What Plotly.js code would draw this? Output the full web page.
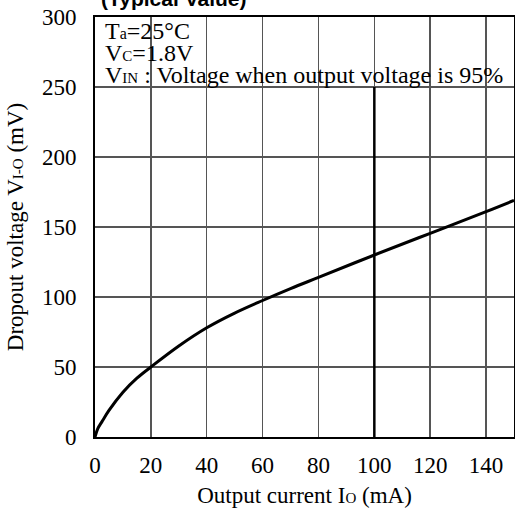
<!DOCTYPE html>
<html>
<head>
<meta charset="utf-8">
<script src="https://cdn.plot.ly/plotly-3.0.1.min.js"></script>
<style>html,body{margin:0;padding:0;background:#fff;}#chart{width:515px;height:513px;}</style>
</head>
<body>
<div id="chart"></div>
<script>
// Data
var outputCurrent = [0, 1, 2.5, 5, 10, 15, 20, 30, 40, 50, 60, 70, 80, 100, 120, 140, 150];
var dropoutVoltage = [0, 6, 11, 19, 32, 42, 50, 65, 78, 88.5, 97.5, 106, 114, 130, 145.5, 161, 169];
var xTicks = [0, 20, 40, 60, 80, 100, 120, 140];
var yTicks = [0, 50, 100, 150, 200, 250, 300];
function sm(t, px) { return "<span style='font-size:" + px + "px'>" + t + "</span>"; }
var conditions = ["T" + sm("a", 16) + "=25°C", "V" + sm("C", 15) + "=1.8V", "V" + sm("IN", 15) + " : Voltage when output voltage is 95%"];
var titleText = "(Typical Value)";

var serif = "Liberation Serif, Times New Roman, serif";

var trace = {
  x: outputCurrent, y: dropoutVoltage, type: "scatter", mode: "lines",
  line: {color: "#000", width: 3, shape: "spline", smoothing: 1},
  hoverinfo: "skip"
};

var annotations = conditions.map(function (t, i) {
  return {
    text: t, xref: "paper", yref: "paper", x: 0, y: 1, xanchor: "left", yanchor: "top",
    xshift: 8, yshift: 1 - i * 22, showarrow: false, align: "left",
    font: {family: serif, size: 24, color: "#000"}
  };
});
annotations.push({
  text: "<b>" + titleText + "</b>", xref: "paper", yref: "paper", x: 0, y: 1,
  xanchor: "left", yanchor: "bottom", xshift: 4, yshift: 5, showarrow: false,
  font: {family: "Liberation Sans, Arial, sans-serif", size: 21, color: "#000"}
});

var layout = {
  width: 515, height: 513,
  margin: {l: 95, r: 1, t: 17, b: 76},
  paper_bgcolor: "#fff", plot_bgcolor: "#fff",
  showlegend: false,
  xaxis: {
    range: [0, 150], tickvals: xTicks, ticktext: xTicks.map(String),
    showgrid: true, gridcolor: "#555", gridwidth: 1.5, zeroline: false,
    showline: true, linecolor: "#000", linewidth: 2, mirror: true,
    ticks: "", ticklabelstandoff: 6,
    tickfont: {family: serif, size: 23, color: "#000"},
    title: {text: "Output current I" + sm("O", 15) + " (mA)", font: {family: serif, size: 23, color: "#000"}, standoff: 10}
  },
  yaxis: {
    range: [0, 300], tickvals: yTicks, ticktext: yTicks.map(String),
    showgrid: true, gridcolor: "#555", gridwidth: 1.5, zeroline: false,
    showline: true, linecolor: "#000", linewidth: 2, mirror: true,
    ticks: "", ticklabelstandoff: 12,
    tickfont: {family: serif, size: 23, color: "#000"},
    title: {text: "Dropout voltage V" + sm("I-O", 15) + " (mV)", font: {family: serif, size: 23, color: "#000"}, standoff: 12}
  },
  shapes: [
    {type: "rect", xref: "paper", yref: "y", x0: 0, x1: 1, y0: 250, y1: 300, fillcolor: "#fff", line: {width: 0}, layer: "between"},
    {type: "line", xref: "paper", yref: "y", x0: 0, x1: 1, y0: 250, y1: 250, line: {color: "#000", width: 2}, layer: "between"},
    {type: "line", xref: "x", yref: "y", x0: 100, x1: 100, y0: 0, y1: 250, line: {color: "#000", width: 2.5}, layer: "between"}
  ],
  annotations: annotations
};

Plotly.newPlot("chart", [trace], layout, {staticPlot: true, displayModeBar: false});
</script>
</body>
</html>
